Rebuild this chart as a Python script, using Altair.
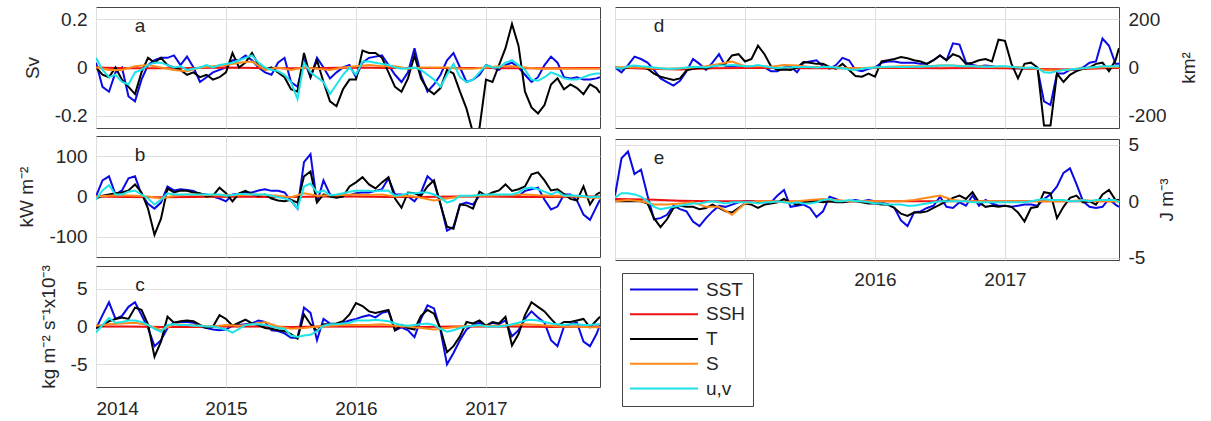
import altair as alt
import pandas as pd

FONT = "Liberation Sans"
SERIES = ["SST", "SSH", "T", "S", "u,v"]
COLORS = ["#0a0ae6", "#f01010", "#000000", "#ff8a1c", "#1ce3e8"]
YEARS = [2014, 2015, 2016, 2017]
X_END = 2017.877

# sampling times (decimal years)
T_GRID = [round(2014 + 0.05 * i, 2) for i in range(78)] + [X_END]
S_GRID = [round(2014 + 0.1 * k, 1) for k in range(39)] + [X_END]
R_GRID = [2014 + 0.25 * k for k in range(16)] + [X_END]

# ---------------- panel a (Sv)
A_SST = [0.02, -0.08, -0.10, -0.02, 0.0, -0.12, -0.14, -0.05, 0.01, 0.03,
         0.04, 0.04, 0.05, 0.01, 0.045, 0.0, -0.06, -0.04, -0.02, -0.01,
         0.0, 0.03, 0.03, 0.05, 0.03, 0.0, -0.02, -0.03, 0.02, 0.04,
         -0.06, -0.08, 0.03, -0.04, 0.04, 0.0, -0.045, -0.02, 0.0, 0.01,
         -0.04, 0.02, 0.04, 0.045, 0.05, 0.01, -0.03, -0.06, -0.02, 0.08,
         -0.03, -0.10, -0.07, -0.03, 0.03, 0.06, 0.0, -0.06, -0.05, -0.03,
         0.01, 0.0, -0.01, 0.01, 0.02, 0.0, -0.03, -0.06, -0.04, 0.01,
         0.045, 0.02, -0.04, -0.045, -0.04, -0.05, -0.05, -0.045, -0.04]
A_T = [0.0, -0.03, -0.04, 0.0, -0.05, -0.08, -0.11, -0.02, 0.04, 0.02,
       0.04, 0.01, 0.0, -0.01, -0.03, -0.02, -0.04, -0.03, -0.05, -0.04,
       -0.02, 0.06, 0.0, 0.02, 0.06, 0.01, -0.01, 0.0, -0.02, -0.04,
       -0.09, -0.10, 0.06, -0.04, 0.03, -0.06, -0.14, -0.16, -0.09, -0.05,
       -0.05, 0.07, 0.06, 0.06, 0.04, -0.02, -0.08, -0.10, -0.045, 0.05,
       -0.045, -0.09, -0.11, -0.085, -0.01, -0.025, -0.10, -0.17, -0.27, -0.25,
       -0.05, -0.06, 0.01, 0.08, 0.18, 0.09, -0.10, -0.165, -0.19, -0.155,
       -0.07, -0.045, -0.09, -0.07, -0.085, -0.11, -0.07, -0.085, -0.105]
A_UV = [0.04, -0.01, -0.04, -0.03, -0.06, -0.07, -0.02, -0.01, 0.01, 0.02,
        0.02, 0.01, 0.0, 0.005, -0.01, -0.005, 0.0, 0.01, 0.0, 0.01,
        0.015, 0.02, 0.03, 0.04, 0.05, 0.02, 0.0, -0.01, -0.015, -0.03,
        -0.06, -0.13, 0.02, -0.02, -0.04, -0.06, -0.11, -0.07, -0.03, 0.0,
        -0.03, 0.025, 0.025, 0.02, 0.015, 0.01, 0.0, -0.005, -0.003, 0.0,
        -0.01, -0.03, -0.05, -0.08, -0.03, 0.015, -0.04, -0.06, -0.05, -0.02,
        0.01, 0.0, 0.0, 0.02, 0.03, 0.01, -0.01, -0.05, -0.055, -0.04,
        -0.02, -0.03, -0.045, -0.05, -0.05, -0.04, -0.03, -0.025, -0.025]
A_S = [0.0, -0.01, -0.01, 0.005, 0.01, 0.0, -0.01, -0.015, 0.0, 0.005,
       0.01, 0.02, 0.025, -0.01, 0.0, -0.01, 0.0, -0.005, -0.01, 0.0,
       0.005, 0.01, 0.005, 0.005, -0.005, 0.0, 0.0, 0.0, -0.005, -0.005,
       0.0, 0.005, 0.005, 0.0, -0.005, -0.005, -0.005, -0.005, -0.005, -0.005]
A_SSH = [0.0, -0.003, -0.003, -0.002, 0.0, -0.002, -0.003, -0.002, 0.0,
         -0.002, -0.002, -0.002, -0.002, -0.003, -0.003, -0.002, -0.002]

# ---------------- panel b (kW m-2)
B_SST = [0, 40, 50, 5, 15, 45, 50, 5, -18, -30,
         -15, 25, 15, 18, 16, 14, 6, 5, 0, -5,
         -12, 5, 6, 10, 10, 15, 18, 14, 14, 10,
         -10, -30, 85, 105, -15, 40, 5, 0, 5, 3,
         8, 10, 10, 14, 18, 45, 5, 5, 0, -12,
         10, 50, 35, -18, -85, -75, -20, -15, -20, 2,
         4, 3, 3, 2, 2, 1, 14, 18, 22, -8,
         -32, -25, 5, 5, -10, -45, -58, -25, -8]
B_T = [-5, 2, 5, 8, 10, 15, 30, 10, -30, -95,
       -55, 20, 10, 15, 14, 10, 8, 0, 2, 22,
       8, -12, 8, 14, 5, 2, 5, -5, -10, -12,
       -8, -15, 50, 62, -15, 5, 0, -3, 0, 25,
       35, 48, 30, 20, 35, 48, -5, -28, 10, 8,
       2, 25, 40, -20, -75, -80, -20, -22, -30, 12,
       2, 10, 15, 30, 14, 18, 25, 55, 60, 40,
       15, 18, 6, -6, -10, 25, -20, 5, 10]
B_UV = [-7, 15, 28, 5, 5, 12, 15, 5, -5, -20,
        -8, 8, 5, 5, 5, 5, 5, 5, 5, 5,
        2, 4, 6, 6, 5, 5, 5, 2, -2, -5,
        -10, -30, 25, 32, 10, 15, 3, 5, 8, 12,
        14, 14, 14, 13, 15, 14, 2, 4, 8, 8,
        10, 10, 5, -3, -15, -10, 2, 2, 2, 4,
        5, 5, 5, 5, 5, 10, 20, 22, 18, 12,
        5, 12, 2, 3, 2, 1, -2, 0, -2]
B_S = [0, 2, 3, 2, 0, -5, 2, 5, 4, 3,
       3, 3, 5, 4, 2, -2, 8, 2, 3, 4,
       5, 4, 5, 0, 2, -3, -10, -5, 0, 2,
       2, 3, 4, 5, 3, 2, 2, 0, -3, -3]
B_SSH = [0, -1, -2, -1, 0, -1, -1, 0, 0, -1, -1, 0, 0, -1, -1, 0, 0]

# ---------------- panel c (kg m-2 s-1 x10-3)
C_SST = [-0.3, 1.5, 3.2, 1.0, 1.4, 2.6, 3.2, 1.5, -0.2, -2.6,
         -1.8, -0.2, 0.5, 0.6, 0.6, 0.5, 0.0, -0.2, -0.4, -0.5,
         -0.4, 0.1, 0.2, 0.3, 0.4, 0.8, 0.6, -0.5, -0.6, -0.9,
         -1.5, -1.5, 2.5, 1.8, -1.8, 1.0, 0.4, 0.3, 0.5, 0.8,
         1.0, 1.3, 1.5, 1.2, 1.8, 2.0, -0.5, -0.1, -0.5, -1.4,
         1.0, 2.8, 2.4, -0.5, -5.0, -3.5, -1.8, -0.4, 0.2, 0.5,
         0.1, 0.5, 0.3, 0.8, -1.3, -0.5, 1.0, 2.0, 1.2, 0.5,
         -1.8, -2.6, 0.0, 0.3, 0.5, -2.0, -2.6, -1.0, 0.2]
C_T = [-0.2, 0.1, 0.7, 1.0, 1.2, 1.0, 2.5, 2.2, 0.3, -4.0,
       -2.0, 1.3, 0.5, 0.7, 0.8, 0.7, 0.2, -0.2, 0.0, 1.5,
       1.0, 0.1, 0.5, 0.9, 0.4, 0.2, -0.2, -0.3, -0.5, -0.6,
       -1.0, -1.6, 1.6, 0.3, -0.6, 0.3, 0.3, 0.4, 0.7, 1.6,
       3.1, 2.7, 2.0, 1.8, 2.0, 2.2, -0.5, 0.2, -0.2, -0.4,
       1.4, 2.2, 1.7, -0.3, -3.4, -2.6, -1.3, 0.6, 0.4, 0.8,
       0.1, 0.6, 0.4, 1.3, -2.5, -1.0, 1.5, 3.2, 2.6, 2.0,
       1.0, 0.1, 0.6, 0.6, 0.8, 1.0, -0.1, 0.8, 1.3]
C_UV = [-0.8, 0.2, 1.1, 0.5, 0.6, 0.8, 0.8, 0.6, 0.2, -0.3,
        -0.7, 0.2, 0.3, 0.2, 0.2, 0.1, 0.1, 0.0, 0.0, -0.2,
        -0.4, -0.8, -0.3, 0.2, 0.3, 0.3, 0.2, 0.0, -0.2, -0.3,
        -1.2, -1.4, -1.2, -1.1, -0.6, 0.1, 0.3, 0.3, 0.4, 0.5,
        0.8, 0.8, 0.8, 0.9, 0.8, 0.7, 0.4, 0.2, 0.1, 0.2,
        0.3, 0.4, 0.2, -0.3, -0.7, -0.5, -0.2, 0.0, 0.1, 0.2,
        0.0, 0.0, 0.0, 0.1, 0.3, 0.5, 0.8, 0.9, 0.8, 0.6,
        0.4, 0.3, 0.2, 0.3, 0.3, 0.2, 0.2, 0.3, 0.3]
C_S = [0.1, 0.3, 0.4, 0.5, 0.2, -0.5, 0.3, 0.2, 0.1, 0.0,
       0.2, 0.1, 0.3, 0.6, 0.0, -0.3, -0.2, 0.0, 0.1, 0.2,
       0.2, 0.2, 0.3, 0.1, 0.0, -0.2, -0.4, -0.2, 0.0, 0.1,
       0.1, 0.1, 0.2, 0.3, 0.2, 0.1, 0.0, 0.0, -0.1, -0.1]
C_SSH = [0.0, 0.0, -0.05, -0.05, 0.0, 0.0, -0.05, 0.0, 0.0,
         0.0, -0.05, 0.0, 0.0, 0.0, -0.05, 0.0, 0.0]

# ---------------- panel d (km2)
D_SST = [0, -20, 10, 45, 35, 20, -10, -45, -60, -75,
         -55, -15, 35, 15, -10, 20, 55, 5, 5, 8,
         5, 0, -2, 0, -15, -15, 0, 5, -20, 20,
         25, 30, 5, -5, 10, 40, 30, -10, -15, -5,
         0, 20, 25, 25, 20, 20, 20, 15, 15, 30,
         50, 30, 100, 95, 20, 10, 5, 8, 5, 0,
         0, -3, -3, -3, -3, -5, -140, -155, -25, -25,
         -10, -8, 0, 20, 25, 120, 90, 15, 15]
D_T = [0, -5, 0, 5, 2, -5, -25, -38, -45, -52,
       -45, -12, -5, 0, -5, 5, 10, 15, 50, 55,
       25, 35, 90, 55, 5, -10, -8, -10, 0, 23,
       20, 15, 15, 2, -5, 15, -10, -35, -38, -25,
       -38, 25, 30, 35, 43, 38, 30, 25, 15, 30,
       50, 30, 55, 45, 15, 20, 30, 35, 25, 115,
       110, 15, -45, 15, 20, 0, -240, -240, -25, -60,
       -30, -15, -5, 0, 15, 20, -15, 30, 80]
D_UV = [0, -5, 5, 8, 5, 3, 0, -3, -5, -5,
        -3, 0, 3, 2, 0, 5, 8, 8, 10, 8,
        5, 5, 10, 5, 0, -2, 0, 0, 2, 2,
        2, 0, 2, 3, 0, -3, -8, -10, -5, -2,
        0, 2, 3, 3, 2, 2, 3, 3, 5, 5,
        8, 8, 8, 5, 5, 5, 3, 3, 3, 5,
        5, 3, 0, -2, 0, -3, -20, -22, -15, -10,
        -8, -5, -3, 0, 2, 5, 5, 5, 5]
D_S = [0, 2, 0, -3, -5, -3, 0, 5, 15, 25,
       5, 5, 3, 10, 8, 2, 3, 0, -3, -2,
       0, 2, 5, 5, 5, 8, 8, 5, 5, 3,
       2, 2, -3, -10, -12, -8, -3, 0, 2, 2]
D_SSH = [0, -5, -8, -3, -2, -2, -3, -3, -2, -2, -3, -2, -3, -6, -8, -3, -2]

# ---------------- panel e (J m-3)
E_SST = [0.5, 3.8, 4.4, 2.4, 2.8, 0.5, -1.6, -1.5, -1.2, -0.4,
         -0.7, -0.9, -1.8, -2.2, -1.5, -0.9, -0.4, -0.5, -0.3, -0.1,
         0.0, 0.0, -0.1, -0.1, -0.1, 0.5, 1.0, -0.5, -0.4, -0.3,
         -0.6, -1.4, -0.9, 0.4, 0.2, -0.1, 0.0, 0.1, 0.0, 0.1,
         0.0, -0.1, -0.3, -0.6, -1.7, -2.2, -1.0, -0.9, -0.6, -0.4,
         0.4, -0.5, -0.6, -0.1, -0.4, 0.5, -0.4, 0.1, -0.2, -0.4,
         -0.4, -0.5, -0.4, -0.3, -0.3, -0.4, 0.2, 0.6, 1.3, 2.5,
         2.9, 1.5, 0.0, -0.5, -0.6, -0.5, 0.2, -0.3, -0.5]
E_T = [0, 0, 0, 0, 0, -0.2, -1.5, -2.3, -1.6, -0.6,
       -0.4, -0.5, -0.5, -0.7, -0.6, -0.3, -0.6, -0.9, -1.0, -0.6,
       -0.2, -0.3, -0.6, -0.3, -0.2, -0.1, 0.2, -0.1, -0.3, -0.1,
       0.0, 0.0, -0.1, 0.0, -0.1, -0.1, 0.0, 0.0, -0.1, -0.2,
       -0.2, -0.3, -0.3, -0.6, -1.1, -1.3, -1.0, -1.0, -0.9, -0.6,
       -0.3, 0.0, 0.3, 0.5, 0.2, 0.8, -0.1, -0.5, -0.4, -0.5,
       -0.4, -0.5, -1.0, -1.8, -0.6, -0.5, 0.8, 0.7, -1.5, -0.5,
       0.3, 0.5, -0.1, 0.0, -0.3, 0.6, 1.0, 0.1, 0.1]
E_UV = [0.3, 0.7, 0.7, 0.6, 0.4, 0.0, -0.5, -0.7, -0.6, -0.5,
        -0.4, -0.3, -0.2, -0.2, -0.1, 0.0, -0.1, -0.2, -0.1, -0.1,
        -0.1, -0.1, -0.2, -0.1, -0.1, 0.0, -0.1, -0.2, -0.1, -0.2,
        -0.2, -0.1, 0.1, 0.2, 0.0, 0.0, 0.1, 0.0, 0.0, -0.1,
        -0.2, -0.2, -0.3, -0.3, -0.3, -0.4, -0.4, -0.3, -0.2, -0.1,
        0.0, 0.0, 0.0, 0.0, 0.0, -0.1, -0.1, -0.1, -0.1, -0.1,
        -0.1, -0.1, -0.1, -0.1, 0.0, 0.1, 0.2, 0.1, 0.1, 0.1,
        0.0, 0.0, 0.1, 0.0, 0.1, 0.1, 0.1, 0.1, -0.1]
E_S = [0.0, 0.1, 0.0, -0.3, -0.3, -0.2, -0.1, -0.5, -0.5, -1.2,
       -0.2, 0.0, 0.0, -0.1, 0.0, 0.1, 0.2, 0.1, 0.0, 0.0,
       0.0, 0.0, 0.0, 0.1, 0.3, 0.5, 0.1, 0.0, 0.0, 0.0,
       0.0, 0.0, 0.0, 0.0, 0.0, 0.0, 0.1, 0.0, 0.0, 0.0]
E_SSH = [0.2, 0.15, 0.05, 0.0, 0.0, 0.0, -0.05, 0.0, 0.0, 0.0,
         0.0, 0.0, 0.0, 0.0, 0.0, 0.0, 0.0]


def frame(sst, ssh, t, s, uv):
    rows = []
    for name, xs, vs in [("SST", T_GRID, sst), ("SSH", R_GRID, ssh), ("T", T_GRID, t),
                         ("S", S_GRID, s), ("u,v", T_GRID, uv)]:
        assert len(xs) == len(vs), (name, len(xs), len(vs))
        rows += [{"t": x, "v": v, "series": name} for x, v in zip(xs, vs)]
    return pd.DataFrame(rows)


PAD_L, PAD_T = 17, 6
ORIGIN_X = 96  # where the top-level group origin lands (measured)
LEGEND = alt.Legend(orient="none", legendX=622 - ORIGIN_X, legendY=272 - PAD_T,
                    symbolType="stroke", symbolSize=4624, symbolStrokeWidth=2,
                    clipHeight=19,
                    labelFont=FONT, labelFontSize=19, labelColor="#262626",
                    labelOffset=7, padding=7, rowPadding=4.75,
                    strokeColor="#444444", fillColor="white")

W, H = 504, 121


def panel(df, ydom, yticks, ytitle, orient, letter, xlabel_expr, xpad=11):
    xaxis_kw = dict(values=YEARS, grid=True, ticks=False, domain=False, title=None)
    if xlabel_expr:
        xaxis_kw.update(labels=True, labelExpr=xlabel_expr, labelPadding=xpad)
    else:
        xaxis_kw.update(labels=False)
    yaxis_kw = dict(values=yticks, orient=orient, title=ytitle, grid=True, ticks=False,
                    domain=False, labelExpr="toString(datum.value)", labelPadding=9,
                    titlePadding=12)
    if orient == "right":
        yaxis_kw.update(titleAngle=270, titleBaseline="top", titlePadding=13)
    lines = alt.Chart(df).mark_line(strokeWidth=2, clip=True).encode(
        x=alt.X("t:Q", scale=alt.Scale(domain=[2014, X_END], nice=False, zero=False),
                axis=alt.Axis(**xaxis_kw)),
        y=alt.Y("v:Q", scale=alt.Scale(domain=ydom, nice=False, zero=False),
                axis=alt.Axis(**yaxis_kw)),
        color=alt.Color("series:N", scale=alt.Scale(domain=SERIES, range=COLORS),
                        sort=SERIES, legend=LEGEND, title=None),
    )
    lab = alt.Chart(pd.DataFrame({"label": [letter]})).mark_text(
        font=FONT, fontSize=19, color="#262626", align="center", baseline="middle"
    ).encode(x=alt.value(44), y=alt.value(19), text="label:N")
    return alt.layer(lines, lab).properties(width=W, height=H)


pa = panel(frame(A_SST, A_SSH, A_T, A_S, A_UV), [-0.25, 0.25], [-0.2, 0, 0.2], "Sv",
           "left", "a", None)
pb = panel(frame(B_SST, B_SSH, B_T, B_S, B_UV), [-150, 150], [-100, 0, 100], "kW m⁻²",
           "left", "b", None)
pc = panel(frame(C_SST, C_SSH, C_T, C_S, C_UV), [-8, 8], [-5, 0, 5], "kg m⁻² s⁻¹x10⁻³",
           "left", "c", "toString(datum.value)", xpad=12)
pd_ = panel(frame(D_SST, D_SSH, D_T, D_S, D_UV), [-250, 250], [-200, 0, 200], "km²",
            "right", "d", None)
pe = panel(frame(E_SST, E_SSH, E_T, E_S, E_UV), [-5.2, 5.5], [-5, 0, 5], "J m⁻³",
           "right", "e", "datum.value >= 2016 ? toString(datum.value) : ''", xpad=10)

left = alt.vconcat(pa, pb, pc, spacing=6)
right = alt.vconcat(pd_, pe, spacing=6)

chart = alt.hconcat(left, right, spacing=13).properties(
    padding={"left": PAD_L, "top": PAD_T, "right": 10, "bottom": 5},
    background="white",
).configure_view(
    stroke="#444444", strokeWidth=1
).configure_axis(
    labelFont=FONT, labelFontSize=19, labelColor="#262626",
    titleFont=FONT, titleFontSize=19, titleFontWeight="normal", titleColor="#262626",
    gridColor="#dedede", gridWidth=1,
)

chart.save("out.html", embed_options={"renderer": "svg", "actions": False})
